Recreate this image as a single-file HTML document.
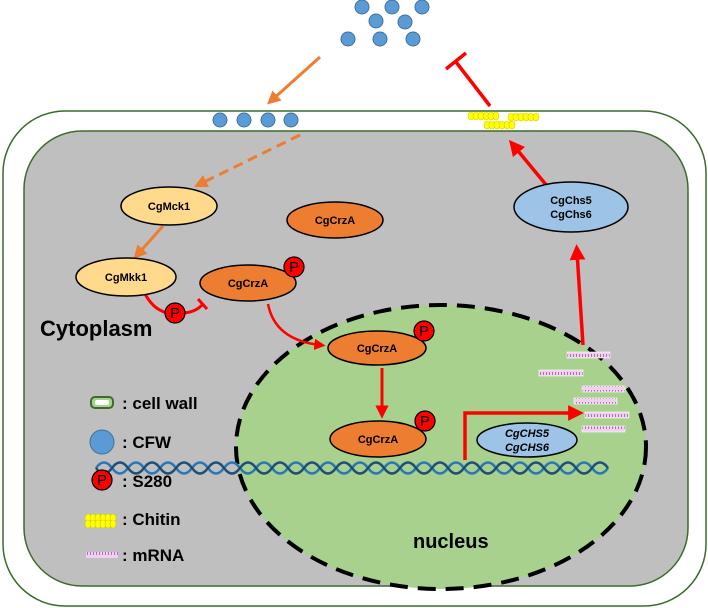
<!DOCTYPE html>
<html><head><style>body{margin:0;background:#fff}svg{display:block}text{font-family:"Liberation Sans",sans-serif;font-weight:bold}</style></head>
<body>
<svg width="708" height="608" viewBox="0 0 708 608" xmlns="http://www.w3.org/2000/svg">
<defs>
<marker id="ro" viewBox="0 0 10 10" refX="5" refY="5" markerWidth="4.5" markerHeight="4.5" orient="auto"><path d="M0,0L10,5L0,10z" fill="#ed7d31"/></marker>
<marker id="rr" viewBox="0 0 10 10" refX="5" refY="5" markerWidth="4.5" markerHeight="4.5" orient="auto"><path d="M0,0L10,5L0,10z" fill="#f00"/></marker>
<pattern id="mr" width="3" height="6" patternUnits="userSpaceOnUse"><rect width="3" height="6" fill="#f0d0f0"/><rect width="1" height="3" y="0" fill="#b070b0"/></pattern>
<g id="bead"><ellipse cx="0" cy="0" rx="3" ry="4" fill="#ffff00" stroke="#d0d000" stroke-width="0.6"/></g>
</defs>
<rect x="3" y="111" width="703" height="495" rx="62" fill="#fff" stroke="#3d6b2a" stroke-width="1.5"/>
<rect x="24" y="131" width="664" height="455" rx="58" fill="#bfbfbf" stroke="#3d6b2a" stroke-width="1.5"/>
<ellipse cx="441" cy="447" rx="205" ry="142" fill="#a9d18e" stroke="#000" stroke-width="4" stroke-dasharray="18,10"/>
<g fill="#5b9bd5" stroke="#41719c" stroke-width="1">
<circle cx="362" cy="7" r="7"/><circle cx="392" cy="7" r="7"/><circle cx="422" cy="7" r="7"/>
<circle cx="376" cy="21" r="7"/><circle cx="405" cy="22" r="7"/>
<circle cx="348" cy="39" r="7"/><circle cx="380" cy="39" r="7"/><circle cx="413" cy="39" r="7"/>
<circle cx="220" cy="120" r="7"/><circle cx="244" cy="120" r="7"/><circle cx="268" cy="120" r="7"/><circle cx="291" cy="120" r="7"/>
</g>
<!-- chitin -->
<g>
<use href="#bead" x="471" y="116"/><use href="#bead" x="476" y="116"/><use href="#bead" x="481" y="116"/><use href="#bead" x="486" y="116"/><use href="#bead" x="491" y="116"/><use href="#bead" x="496" y="116"/>
<use href="#bead" x="511" y="117"/><use href="#bead" x="516" y="117"/><use href="#bead" x="521" y="117"/><use href="#bead" x="526" y="117"/><use href="#bead" x="531" y="117"/><use href="#bead" x="536" y="117"/>
<use href="#bead" x="487" y="125"/><use href="#bead" x="492" y="125"/><use href="#bead" x="497" y="125"/><use href="#bead" x="502" y="125"/><use href="#bead" x="507" y="125"/><use href="#bead" x="512" y="125"/>
</g>
<line x1="320" y1="57" x2="272" y2="100" stroke="#ed7d31" stroke-width="3" marker-end="url(#ro)"/>
<line x1="300" y1="135" x2="200" y2="184" stroke="#ed7d31" stroke-width="3" stroke-dasharray="10,6" marker-end="url(#ro)"/>
<line x1="163" y1="226" x2="138" y2="254" stroke="#ed7d31" stroke-width="3" marker-end="url(#ro)"/>
<line x1="490" y1="106" x2="456" y2="62" stroke="#f00" stroke-width="3.5"/>
<line x1="446" y1="69" x2="466" y2="53" stroke="#f00" stroke-width="3.5"/>
<line x1="552" y1="192" x2="514" y2="146" stroke="#f00" stroke-width="3.5" marker-end="url(#rr)"/>
<line x1="583" y1="345" x2="577" y2="252" stroke="#f00" stroke-width="3.5" marker-end="url(#rr)"/>
<polyline points="465,460 465,413 576,413" fill="none" stroke="#f00" stroke-width="3.5" marker-end="url(#rr)"/>
<line x1="382" y1="368" x2="382" y2="412" stroke="#f00" stroke-width="3" marker-end="url(#rr)"/>
<path d="M145,294 Q155,312 170,313" fill="none" stroke="#f00" stroke-width="3"/>
<path d="M184,313 Q196,312 203,304" fill="none" stroke="#f00" stroke-width="3"/>
<line x1="198" y1="299" x2="207" y2="309" stroke="#f00" stroke-width="3"/>
<path d="M268,304 Q275,340 320,345" fill="none" stroke="#f00" stroke-width="2.5" marker-end="url(#rr)"/>
<!-- DNA -->
<g fill="none" stroke-width="2.5">
<path stroke="#2e75b6" d="M96,468 q8,-11 16,0 t16,0 t16,0 t16,0 t16,0 t16,0 t16,0 t16,0 t16,0 t16,0 t16,0 t16,0 t16,0 t16,0 t16,0 t16,0 t16,0 t16,0 t16,0 t16,0 t16,0 t16,0 t16,0 t16,0 t16,0 t16,0 t16,0 t16,0 t16,0 t16,0 t16,0 t16,0"/>
<path stroke="#1f4e79" d="M96,468 q8,11 16,0 t16,0 t16,0 t16,0 t16,0 t16,0 t16,0 t16,0 t16,0 t16,0 t16,0 t16,0 t16,0 t16,0 t16,0 t16,0 t16,0 t16,0 t16,0 t16,0 t16,0 t16,0 t16,0 t16,0 t16,0 t16,0 t16,0 t16,0 t16,0 t16,0 t16,0 t16,0"/>
</g>
<g fill="url(#mr)" stroke="#fff" stroke-width="0.6">
<rect x="567" y="352" width="43" height="6"/><rect x="539" y="370" width="44" height="6"/><rect x="582" y="386" width="43" height="6"/>
<rect x="574" y="398" width="43" height="6"/><rect x="585" y="412" width="44" height="6"/><rect x="582" y="426" width="43" height="6"/>
</g>
<g stroke="#000" stroke-width="1.5">
<ellipse cx="169" cy="206" rx="48" ry="19" fill="#ffd98c"/>
<ellipse cx="126" cy="277" rx="50" ry="19" fill="#ffd98c"/>
<ellipse cx="335" cy="220" rx="48" ry="18" fill="#ed7d31"/>
<ellipse cx="248" cy="283" rx="48" ry="18" fill="#ed7d31"/>
<ellipse cx="377" cy="348" rx="49" ry="17" fill="#ed7d31"/>
<ellipse cx="378" cy="439" rx="48" ry="18" fill="#ed7d31"/>
<ellipse cx="571" cy="207" rx="57" ry="25" fill="#9dc3e6"/>
<ellipse cx="527" cy="440" rx="50" ry="17" fill="#9dc3e6"/>
</g>
<g font-size="11" text-anchor="middle">
<text x="169" y="210">CgMck1</text><text x="126" y="281">CgMkk1</text>
<text x="335" y="224">CgCrzA</text><text x="248" y="287">CgCrzA</text>
<text x="377" y="352">CgCrzA</text><text x="378" y="443">CgCrzA</text>
<text x="571" y="204">CgChs5</text><text x="571" y="218">CgChs6</text>
<text x="527" y="437" font-style="italic">CgCHS5</text><text x="527" y="451" font-style="italic">CgCHS6</text>
</g>
<g fill="#f00" stroke="#000" stroke-width="1.2">
<circle cx="294" cy="267" r="10"/><circle cx="175" cy="313" r="10"/><circle cx="424" cy="331" r="10"/><circle cx="425" cy="421" r="10"/><circle cx="102" cy="480" r="10"/>
</g>
<g font-size="15" text-anchor="middle">
<text x="294" y="272" style="font-weight:normal">P</text><text x="175" y="318" style="font-weight:normal">P</text><text x="424" y="336" style="font-weight:normal">P</text><text x="425" y="426" style="font-weight:normal">P</text><text x="102" y="485" style="font-weight:normal">P</text>
</g>
<text x="40" y="336" font-size="22">Cytoplasm</text>
<text x="413" y="548" font-size="20">nucleus</text>
<rect x="91" y="397" width="22" height="11" rx="4" fill="#a9d18e" stroke="#3d6b2a" stroke-width="2"/>
<rect x="95" y="400" width="14" height="5" rx="2" fill="#fff"/>
<circle cx="102" cy="442" r="12" fill="#5b9bd5" stroke="#41719c"/>
<g>
<use href="#bead" x="88" y="518"/><use href="#bead" x="93" y="518"/><use href="#bead" x="98" y="518"/><use href="#bead" x="103" y="518"/><use href="#bead" x="108" y="518"/><use href="#bead" x="113" y="518"/>
<use href="#bead" x="88" y="524"/><use href="#bead" x="93" y="524"/><use href="#bead" x="98" y="524"/><use href="#bead" x="103" y="524"/><use href="#bead" x="108" y="524"/><use href="#bead" x="113" y="524"/>
</g>
<rect x="86" y="552" width="32" height="6" fill="url(#mr)"/>
<g font-size="17">
<text x="122" y="409">: cell wall</text>
<text x="122" y="448">: CFW</text>
<text x="122" y="487">: S280</text>
<text x="122" y="525">: Chitin</text>
<text x="122" y="561">: mRNA</text>
</g>
</svg>
</body></html>
